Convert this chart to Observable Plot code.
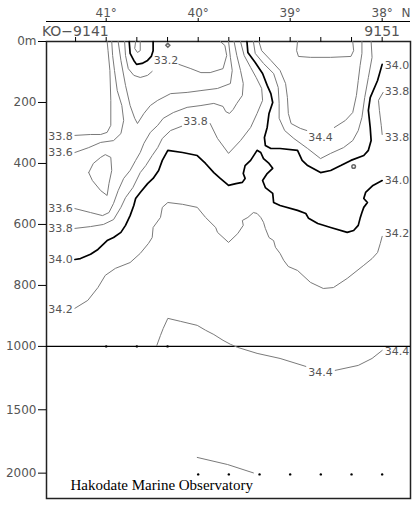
<!DOCTYPE html>
<html><head><meta charset="utf-8">
<script src="https://cdn.jsdelivr.net/npm/d3@7"></script>
<script src="https://cdn.jsdelivr.net/npm/@observablehq/plot@0.6"></script>
<style>body{margin:0;background:#fff} svg{display:block}</style>
</head><body><div id="chart"></div>
<script>
// axes
const latTicks = [41, 40, 39, 38];
const stationLat = [41.333, 41, 40.667, 40.333, 40, 39.667, 39.333, 39, 38.667, 38.333, 38];
const stationNames = ["KO−9141", "9151"];
const stationNameLat = [41, 38];
const depthTicks = [0, 200, 400, 600, 800, 1000, 1500, 2000];
const depthExtent = [0, 2200];
// deepest observation per station
const bottomLat = [41, 40.667, 40.333, 40, 39.667, 39.333, 39, 38.667, 38.333, 38];
const bottomDepth = [1000, 1000, 1000, 2010, 2010, 2010, 2010, 2010, 2010, 2010];

// salinity contours: [latitude, depth m]
const s328 = [[40.68,0],[40.69,23],[40.66,36],[40.63,30],[40.63,0]];
const s330 = [[40.75,0],[40.74,39],[40.70,62],[40.67,75],[40.61,72],[40.55,62],[40.51,49],[40.49,30],[40.49,0]];
const s332a = [[40.80,0],[40.79,46],[40.76,89],[40.70,111],[40.63,118],[40.55,111],[40.50,98]];
const s332b = [[40.21,75],[40.08,89],[39.97,102],[39.87,102],[39.73,89],[39.69,46],[39.71,13],[39.76,0]];
const s334 = [[40.87,0],[40.84,62],[40.79,144],[40.74,210],[40.69,252],[40.66,269],[40.59,236],[40.52,210],[40.44,193],[40.30,171],[40.12,167],[39.97,161],[39.79,154],[39.65,138],[39.63,95],[39.65,52],[39.67,0]];
const s334loop = [[41.19,430],[41.14,400],[41.06,380],[41.01,371],[40.95,380],[40.94,423],[40.97,466],[40.99,505],[41.06,489],[41.15,456],[41.19,430]];
const s336a = [[41.34,364],[41.19,348],[41.06,331],[40.92,325],[40.84,302],[40.81,259],[40.83,210],[40.88,161],[40.91,95],[40.93,46],[40.94,0]];
const s336b = [[41.34,548],[41.17,561],[41.04,571],[40.97,561],[40.92,531],[40.87,489],[40.81,449],[40.74,423],[40.68,390],[40.63,364],[40.59,334],[40.52,298],[40.44,275],[40.38,252],[40.27,233],[40.12,216],[39.97,210],[39.83,203],[39.73,213],[39.70,230],[39.66,236],[39.62,223],[39.58,203],[39.52,177],[39.51,138],[39.54,95],[39.58,46],[39.61,0]];
const s338a = [[41.34,308],[41.17,305],[41.06,305],[40.99,298],[40.95,275],[40.95,193],[40.96,95],[40.98,30],[40.99,0]];
const s338b1 = [[41.34,613],[41.17,607],[41.03,600],[40.92,584],[40.84,544],[40.79,512],[40.71,479],[40.63,430],[40.57,407],[40.50,374],[40.44,348],[40.39,318],[40.30,292],[40.18,278]];
const s338b2 = [[39.87,269],[39.79,318],[39.67,367],[39.54,325],[39.43,282],[39.36,236],[39.30,193],[39.31,154],[39.37,118],[39.43,85],[39.50,46],[39.54,0]];
const s338c = [[37.99,167],[38.04,193],[38.03,226],[38.01,275],[38.00,305]];
const s340a = [[39.47,0],[39.46,36],[39.38,69],[39.30,105],[39.25,144],[39.21,171],[39.19,200],[39.23,236],[39.25,282],[39.28,315],[39.27,341],[39.21,351],[39.11,351],[38.92,357],[38.87,390],[38.81,407],[38.67,430],[38.56,423],[38.45,407],[38.34,390],[38.20,374],[38.15,357],[38.12,325],[38.13,282],[38.15,226],[38.13,184],[38.05,128],[38.00,75]];
const s340b = [[41.34,715],[41.28,712],[41.17,698],[41.09,682],[40.99,653],[40.92,643],[40.84,626],[40.79,603],[40.74,571],[40.70,538],[40.68,515],[40.63,495],[40.55,466],[40.49,449],[40.43,423],[40.39,390],[40.33,357],[40.17,364],[40.01,374],[39.92,400],[39.83,430],[39.76,449],[39.67,472],[39.59,466],[39.52,462],[39.49,449],[39.51,433],[39.49,407],[39.43,390],[39.36,357],[39.32,364],[39.29,384],[39.23,400],[39.19,416],[39.25,433],[39.30,456],[39.27,479],[39.19,498],[39.18,528],[39.11,538],[38.92,554],[38.83,564],[38.80,580],[38.70,597],[38.56,610],[38.38,626],[38.31,620],[38.26,603],[38.24,580],[38.22,561],[38.20,544],[38.16,528],[38.20,515],[38.18,495],[38.10,472],[38.00,456]];
const s342a = [[39.40,0],[39.38,39],[39.29,72],[39.18,105],[39.13,151],[39.12,203],[39.12,252],[39.06,292],[38.96,318],[38.81,351],[38.67,384],[38.56,367],[38.42,348],[38.32,325],[38.26,292],[38.22,249],[38.19,184],[38.15,118],[38.11,52],[38.12,0]];
const s342b = [[41.34,875],[41.20,849],[41.09,807],[41.01,767],[40.90,744],[40.74,725],[40.63,695],[40.54,662],[40.50,643],[40.49,610],[40.41,577],[40.39,544],[40.33,528],[40.17,534],[40.01,544],[39.92,577],[39.81,610],[39.79,626],[39.67,659],[39.57,630],[39.51,603],[39.52,587],[39.46,577],[39.40,561],[39.36,564],[39.32,577],[39.29,593],[39.27,613],[39.23,643],[39.18,653],[39.16,675],[39.11,695],[39.07,718],[39.02,738],[38.92,751],[38.78,790],[38.64,810],[38.53,807],[38.38,777],[38.20,734],[38.11,712],[38.05,692],[38.02,662],[38.00,639]];
const s344a1 = [[39.34,0],[39.31,30],[39.21,62],[39.11,95],[39.05,138],[39.03,184],[39.02,236],[38.99,269],[38.89,285],[38.82,292]];
const s344a2 = [[38.52,282],[38.40,259],[38.32,233],[38.28,177],[38.26,128],[38.24,79],[38.22,39],[38.22,0]];
const s344loop = [[38.92,0],[38.93,30],[38.91,49],[38.78,52],[38.56,52],[38.34,49],[38.31,30],[38.32,0]];
const s344b1 = [[40.45,997],[40.41,964],[40.38,941],[40.33,908],[40.19,918],[40.01,931],[39.92,947],[39.83,961],[39.73,980],[39.65,993],[39.57,1008],[39.36,1055],[39.11,1095],[38.83,1158]];
const s344b2 = [[38.51,1189],[38.26,1150],[38.11,1095],[38.00,1032]];
const sDeep = [[40.01,1876],[39.68,1932],[39.40,1998]];

const thinLines = [s328, s332a, s332b, s334, s334loop, s336a, s336b, s338a, s338b1, s338b2, s338c, s342a, s342b, s344a1, s344a2, s344loop, s344b1, s344b2, sDeep];
const boldLines = [s330, s340a, s340b];

// contour labels
const leftText = ["33.8","33.6","33.6","33.8","34.0","34.2"];
const leftDepth = [312, 364, 548, 613, 715, 879];
const rightText = ["34.0","33.8","33.8","34.0","34.2","34.4"];
const rightDepth = [79, 164, 316, 456, 631, 1039];
const midText = ["33.2","33.8","34.4","34.4"];
const midLat = [40.35, 40.03, 38.67, 38.67];
const midDepth = [62, 262, 315, 1205];
// tiny closed contours
const markLat = [40.33, 38.31];
const markDepth = [12, 410];
const markSymbol = ["diamond2", "circle"];

// depth axis is compressed below 1000 m
const breakDepth = 1000, deepFactor = 0.4157;
const warp = d => d <= breakDepth ? d : breakDepth + (d - breakDepth) * deepFactor;
const unwarp = v => Math.round(v <= breakDepth ? v : breakDepth + (v - breakDepth) / deepFactor);

const gray = "#555";
const marks = [
  Plot.frame({stroke: "#222", strokeWidth: 1.5}),
  Plot.ruleY([breakDepth], {stroke: "#000", strokeWidth: 1.3}),
  Plot.ruleY([0], {dy: -20, stroke: "#000", strokeWidth: 1.2}),
  Plot.axisY({ticks: depthTicks.map(warp), tickFormat: v => { const d = unwarp(v); return d === 0 ? "0m" : String(d); }, tickSize: 8, tickPadding: 2, stroke: "#000", fill: gray, fontSize: 12}),
  Plot.axisX({anchor: "top", ticks: latTicks, tickFormat: d => `${d}°`, tickSize: 4, tickPadding: 1, dy: -20, stroke: "#000", fill: gray, fontSize: 12}),
  Plot.axisX({anchor: "top", ticks: stationLat, tickFormat: () => "", tickSize: 5, stroke: "#000"}),
  Plot.text(["N"], {frameAnchor: "top-right", dy: -25, textAnchor: "end", lineAnchor: "bottom", fill: gray, fontSize: 12}),
  Plot.text([stationNames[0]], {x: stationNameLat[0], y: 0, dx: 2.5, dy: -5.5, textAnchor: "end", lineAnchor: "bottom", fill: gray, fontSize: 14}),
  Plot.text([stationNames[1]], {x: stationNameLat[1], y: 0, dy: -5.5, textAnchor: "middle", lineAnchor: "bottom", fill: gray, fontSize: 14}),
  ...thinLines.map(pts => Plot.line(pts, {x: d => d[0], y: d => d[1], stroke: "#7a7a7a", strokeWidth: 1})),
  ...boldLines.map(pts => Plot.line(pts, {x: d => d[0], y: d => d[1], stroke: "#000", strokeWidth: 1.7})),
  Plot.dot(markLat.map((v, i) => [v, markDepth[i], markSymbol[i]]), {x: d => d[0], y: d => d[1], symbol: d => d[2], r: 1.8, stroke: "#666", fill: "none"}),
  Plot.text(leftText, {x: () => 41.63, y: (d, i) => leftDepth[i], text: d => d, textAnchor: "start", fill: gray, fontSize: 11}),
  Plot.text(rightText, {x: () => 37.705, y: (d, i) => rightDepth[i], text: d => d, textAnchor: "end", fill: gray, fontSize: 11}),
  Plot.text(midText, {x: (d, i) => midLat[i], y: (d, i) => midDepth[i], text: d => d, textAnchor: "middle", fill: gray, fontSize: 11}),
  Plot.dot(bottomLat.map((v, i) => [v, bottomDepth[i]]), {x: d => d[0], y: d => d[1], r: 1.2, fill: "#000"}),
  Plot.text(["Hakodate Marine Observatory"], {frameAnchor: "bottom-left", dx: 24, dy: -8.5, textAnchor: "start", lineAnchor: "bottom", fontFamily: "Liberation Serif", fontSize: 15, fill: "#000"})
];

const chart = Plot.plot({
  width: 418, height: 506,
  marginLeft: 46, marginRight: 8, marginTop: 41, marginBottom: 8,
  style: {fontFamily: "DejaVu Sans", fontSize: "12px", background: "#fff", overflow: "visible"},
  x: {domain: [41.649, 37.692], axis: null},
  y: {transform: warp, domain: depthExtent.map(warp), reverse: true, axis: null},
  symbol: {type: "identity"},
  marks
});
document.getElementById("chart").appendChild(chart);
</script>
</body></html>
